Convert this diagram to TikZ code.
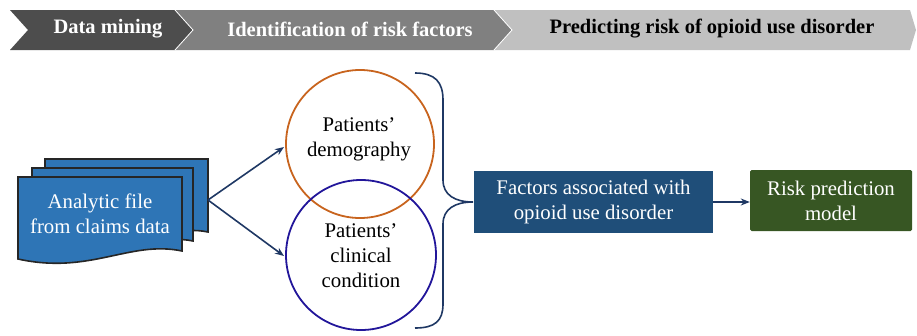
\documentclass[tikz,border=0pt]{standalone}
\usepackage{fontspec}
\setmainfont{Liberation Serif}
\usetikzlibrary{arrows.meta}
\definecolor{chevA}{HTML}{4D4D4D}
\definecolor{chevB}{HTML}{808080}
\definecolor{chevC}{HTML}{C0C0C0}
\definecolor{docblue}{HTML}{2E75B6}
\definecolor{navy}{HTML}{1F3864}
\definecolor{factblue}{HTML}{1F4E79}
\definecolor{riskgreen}{HTML}{375623}
\definecolor{orangec}{HTML}{C8641E}
\definecolor{indigoc}{HTML}{22169A}
\tikzset{
  headtxt/.style={font=\bfseries\fontsize{20.5}{24}\selectfont, inner sep=0pt},
  doc/.style={fill=docblue, draw=black!85, line width=1.6pt, line join=miter},
  bodytxt/.style={font=\fontsize{20.8}{25}\selectfont, align=center, inner sep=0pt},
  conn/.style={draw=navy, line width=1.6pt, -{Stealth[length=9pt,width=7pt]}},
  bracestyle/.style={draw=navy, line width=1.6pt},
}
\begin{document}
\begin{tikzpicture}[x=1pt,y=-1pt]
\useasboundingbox (0,0) rectangle (917,335);
% chevrons
\fill[chevA] (10,10) -- (175,10) -- (193,30) -- (175,50) -- (10,50) -- (28,30) -- cycle;
\fill[chevB] (175,10) -- (494,10) -- (512,30) -- (494,50) -- (175,50) -- (193,30) -- cycle;
\fill[chevC] (494,10) -- (910,10) -- (916,30) -- (910,50) -- (494,50) -- (512,30) -- cycle;
\draw[white, line width=0.8pt] (175,10) -- (193,30) -- (175,50);
\draw[white, line width=0.8pt] (494,10) -- (512,30) -- (494,50);
\node[headtxt, text=white] (h1) at (108,29) {Data mining};
\node[headtxt, text=white] (h2) at (350,29) {Identification of risk factors};
\node[headtxt, text=black] (h3) at (712,29) {Predicting risk of opioid use disorder};
% documents
\filldraw[doc] (45,159) -- (208,159) -- (208,232) .. controls (180,226) and (160,240) .. (120,236) -- (120,168) -- (45,168) -- cycle;
\filldraw[doc] (32,168) -- (193,168) -- (193,241) .. controls (165,235) and (145,249) .. (110,245) -- (110,177) -- (32,177) -- cycle;
\filldraw[doc] (18,177) -- (182,177) -- (182,251) .. controls (130,240) and (90,275) .. (18,259) -- cycle;
\node[bodytxt, text=white] (doc) at (100,214) {Analytic file\\from claims data};
\coordinate (docR) at (208,200);
% circles
\draw[orangec, line width=1.8pt] (360,144) circle (74);
\draw[indigoc, line width=1.8pt] (361,255) circle (75);
\node[bodytxt] (demo) at (359,139) {Patients’\\demography};
\node[bodytxt] (clin) at (361,256) {Patients’\\clinical\\condition};
\coordinate (demoL) at (284,147);
\coordinate (clinL) at (284,256);
\draw[conn] (docR) -- (demoL);
\draw[conn] (docR) -- (clinL);
% brace
\coordinate (bt) at (473,202);
\draw[bracestyle] (415,73) .. controls (435,73) and (443,82) .. (443,100) -- (443,180) .. controls (443,195) and (455,202) .. (bt) .. controls (455,202) and (443,209) .. (443,224) -- (443,304) .. controls (443,321) and (435,328) .. (415,328);
% boxes
\node[bodytxt, fill=factblue, text=white, minimum width=239pt, minimum height=62pt] (fact) at (593.5,202) {Factors associated with\\opioid use disorder};
\node[bodytxt, fill=riskgreen, text=white, minimum width=162pt, minimum height=61pt, rounded corners=1.5pt] (risk) at (831,200.5) {Risk prediction\\model};
\draw[conn, line width=1.3pt] (fact.east) -- (risk.west |- fact.east);
\end{tikzpicture}
\end{document}
